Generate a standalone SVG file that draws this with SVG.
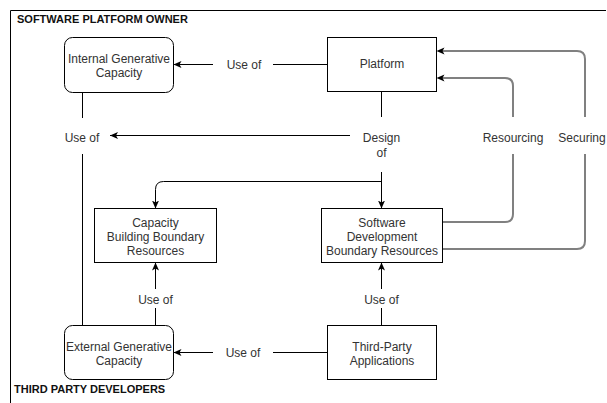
<svg xmlns="http://www.w3.org/2000/svg" width="607" height="403" viewBox="0 0 607 403">
<defs>
<marker id="arr" markerUnits="userSpaceOnUse" markerWidth="9" markerHeight="8" refX="8" refY="3.5" orient="auto">
<path d="M0,0 L8,3.5 L0,7 L2,3.5 Z" fill="#000"/>
</marker>
<style>
.t{font-family:"Liberation Sans",Arial,sans-serif;font-size:12px;fill:#333;text-anchor:middle}
.h{font-family:"Liberation Sans",Arial,sans-serif;font-size:11px;font-weight:bold;fill:#111}
.n{fill:#fff;stroke:#000;stroke-width:1}
.e{fill:none;stroke:#000;stroke-width:1}
.g{fill:none;stroke:#808080;stroke-width:2}
</style>
</defs>
<rect width="607" height="403" fill="#fff"/>
<g id="pool">
<path d="M606 10.5 H10.5 V403" fill="none" stroke="#000"/>
<text class="h" x="17" y="23">SOFTWARE PLATFORM OWNER</text>
<text class="h" x="14" y="393">THIRD PARTY DEVELOPERS</text>
</g>
<g id="connectors">
<path class="e" d="M327.5 64.5 H273"/>
<path class="e" d="M213 64.5 H173.5" marker-end="url(#arr)"/>
<text class="t" x="244" y="68.5">Use of</text>
<path class="e" d="M381.5 91.5 V117"/>
<path class="e" d="M381.5 172 V208.5" marker-end="url(#arr)"/>
<text class="t" x="381.5" y="142">Design</text>
<text class="t" x="381.5" y="156.5">of</text>
<path class="e" d="M350 135.5 H110" marker-end="url(#arr)"/>
<path class="e" d="M381.5 181.5 H163.5 Q155.5 181.5 155.5 189.5 V208.5" marker-end="url(#arr)"/>
<path class="g" d="M442.5 222 H505 Q513 222 513 214 V154"/>
<path class="g" d="M513 117 V86 Q513 78 505 78 H441"/>
<path d="M436.5 78 L444.5 74.5 L442.5 78 L444.5 81.5 Z" fill="#000"/>
<text class="t" x="513" y="141.5">Resourcing</text>
<path class="g" d="M442.5 249 H577 Q585 249 585 241 V154"/>
<path class="g" d="M585 117 V59 Q585 51 577 51 H441"/>
<path d="M436.5 51 L444.5 47.5 L442.5 51 L444.5 54.5 Z" fill="#000"/>
<text class="t" x="582" y="141.5">Securing</text>
<path class="e" d="M82.5 92.5 V118"/>
<path class="e" d="M82.5 154 V325.5"/>
<text class="t" x="82" y="141.5">Use of</text>
<path class="e" d="M327.5 352.5 H273"/>
<path class="e" d="M213 352.5 H173.5" marker-end="url(#arr)"/>
<text class="t" x="243" y="357">Use of</text>
<path class="e" d="M155.5 325.5 V308"/>
<path class="e" d="M155.5 289 V262.5" marker-end="url(#arr)"/>
<text class="t" x="155.5" y="303.5">Use of</text>
<path class="e" d="M381.5 325.5 V308"/>
<path class="e" d="M381.5 289 V262.5" marker-end="url(#arr)"/>
<text class="t" x="381.5" y="303.5">Use of</text>
</g>
<g id="internal">
<rect class="n" x="64.5" y="37.5" width="109" height="55" rx="8"/>
<text class="t" x="119" y="62.5">Internal Generative</text>
<text class="t" x="119" y="77">Capacity</text>
</g>
<g id="platform">
<rect class="n" x="327.5" y="37.5" width="109" height="54"/>
<text class="t" x="382" y="68">Platform</text>
</g>
<g id="capacity-building">
<rect class="n" x="94.5" y="208.5" width="122" height="54"/>
<text class="t" x="155.5" y="227">Capacity</text>
<text class="t" x="155.5" y="241">Building Boundary</text>
<text class="t" x="155.5" y="255">Resources</text>
</g>
<g id="software-dev">
<rect class="n" x="321.5" y="208.5" width="121" height="54"/>
<text class="t" x="382" y="227">Software</text>
<text class="t" x="382" y="241">Development</text>
<text class="t" x="382" y="255">Boundary Resources</text>
</g>
<g id="external">
<rect class="n" x="64.5" y="325.5" width="109" height="54" rx="8"/>
<text class="t" x="119" y="350.5">External Generative</text>
<text class="t" x="119" y="365">Capacity</text>
</g>
<g id="third-party">
<rect class="n" x="327.5" y="325.5" width="109" height="54"/>
<text class="t" x="382" y="350.5">Third-Party</text>
<text class="t" x="382" y="365">Applications</text>
</g>
</svg>
